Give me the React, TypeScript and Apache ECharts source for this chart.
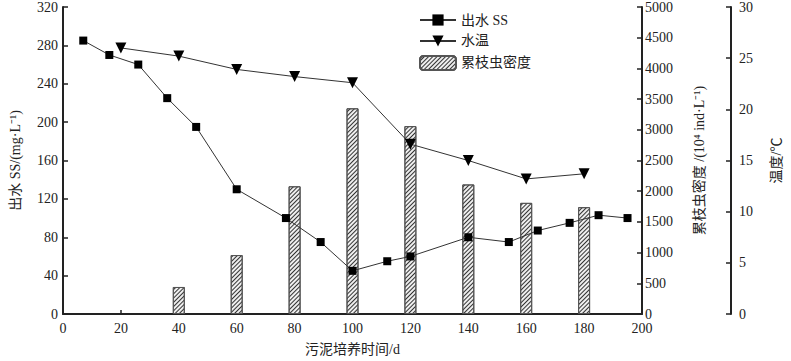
import React, { useEffect, useRef } from "react";
import * as echarts from "echarts";

const ssDays = [7, 16, 26, 36, 46, 60, 77, 89, 100, 112, 120, 140, 154, 164, 175, 185, 195];
const ssValues = [285, 270, 260, 225, 195, 130, 100, 75, 45, 55, 60, 80, 75, 87, 95, 103, 100];
const tempDays = [20, 40, 60, 80, 100, 120, 140, 160, 180];
const tempValues = [26, 25.2, 23.9, 23.2, 22.6, 16.6, 15.0, 13.2, 13.7];
const densDays = [40, 60, 80, 100, 120, 140, 160, 180];
const densValues = [440, 960, 2080, 3350, 3060, 2110, 1810, 1740];

const FONT = "'Liberation Serif', 'Times New Roman', 'Noto Sans CJK SC', serif";

export default function App() {
  const ref = useRef<HTMLDivElement>(null);
  useEffect(() => {
    if (!ref.current) return;
    const chart = echarts.init(ref.current, null, { renderer: "svg" });
    const axisCommon = {
      axisLine: { show: true, lineStyle: { color: "#222", width: 2 } },
      axisTick: { show: true, inside: true, length: 5, lineStyle: { color: "#222", width: 1.5 } },
      axisLabel: { color: "#222", fontFamily: FONT, fontSize: 14 },
      splitLine: { show: false },
      nameTextStyle: { color: "#222", fontFamily: FONT, fontSize: 14 },
    };
    chart.setOption({
      animation: false,
      backgroundColor: "#fff",
      grid: { left: 60, right: 143, top: 6, bottom: 46 },
      legend: {
        orient: "vertical",
        left: 414,
        top: 8,
        itemWidth: 36,
        itemHeight: 14,
        itemGap: 7,
        textStyle: { fontFamily: FONT, fontSize: 14, color: "#222" },
        data: ["出水 SS", "水温", "累枝虫密度"],
      },
      xAxis: {
        type: "value",
        min: 0,
        max: 200,
        interval: 20,
        name: "污泥培养时间/d",
        nameLocation: "middle",
        nameGap: 28,
        ...axisCommon,
        axisTick: { show: true, inside: true, length: 4, lineStyle: { color: "#222", width: 1.5 } },
        axisLabel: { ...axisCommon.axisLabel, margin: 7 },
      },
      yAxis: [
        {
          type: "value",
          min: 0,
          max: 320,
          interval: 40,
          position: "left",
          name: "出水 SS/(mg·L⁻¹)",
          nameLocation: "middle",
          nameRotate: 90,
          nameGap: 41,
          ...axisCommon,
          axisLabel: { ...axisCommon.axisLabel, margin: 5 },
        },
        {
          type: "value",
          min: 0,
          max: 5000,
          interval: 500,
          position: "right",
          name: "累枝虫密度 /(10⁴ ind·L⁻¹)",
          nameLocation: "middle",
          nameRotate: 90,
          nameGap: 50,
          ...axisCommon,
          axisLabel: { ...axisCommon.axisLabel, margin: 3, formatter: (v: number) => String(v) },
        },
        {
          type: "value",
          min: 0,
          max: 30,
          interval: 5,
          position: "right",
          offset: 89,
          name: "温度/℃",
          nameLocation: "middle",
          nameRotate: 90,
          nameGap: 38,
          ...axisCommon,
          axisLabel: { ...axisCommon.axisLabel, margin: 8 },
        },
      ],
      series: [
        {
          name: "累枝虫密度",
          type: "bar",
          yAxisIndex: 1,
          barWidth: 12,
          z: 1,
          data: densDays.map((d, i) => [d, densValues[i]]),
          itemStyle: {
            color: "#eeeeee",
            borderColor: "#555",
            borderWidth: 1,
            decal: {
              symbol: "rect",
              symbolSize: 1,
              color: "#333",
              dashArrayX: [1, 0],
              dashArrayY: [1, 2],
              rotation: -Math.PI / 4,
            },
          },
        },
        {
          name: "出水 SS",
          type: "line",
          yAxisIndex: 0,
          z: 3,
          symbol: "rect",
          symbolSize: 8,
          data: ssDays.map((d, i) => [d, ssValues[i]]),
          lineStyle: { color: "#333", width: 1 },
          itemStyle: { color: "#000" },
        },
        {
          name: "水温",
          type: "line",
          yAxisIndex: 2,
          z: 3,
          symbol: "triangle",
          symbolRotate: 180,
          symbolSize: 11,
          data: tempDays.map((d, i) => [d, tempValues[i]]),
          lineStyle: { color: "#333", width: 1 },
          itemStyle: { color: "#000" },
        },
      ],
    });
    return () => chart.dispose();
  }, []);
  return <div ref={ref} style={{ width: 791, height: 361, position: "absolute", left: 0, top: 0 }} />;
}
